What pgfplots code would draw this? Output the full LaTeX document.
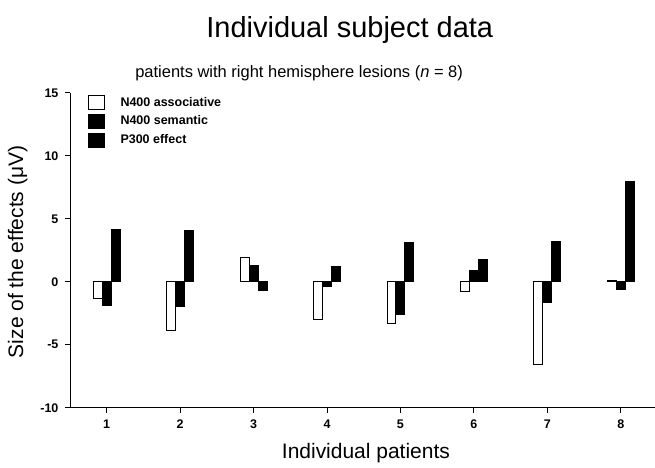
\documentclass[border=0pt]{standalone}
\usepackage{fontspec}
\setmainfont{Liberation Sans}
\usepackage{pgfplots}
\pgfplotsset{compat=1.18}

\begin{document}
\begin{tikzpicture}
\begin{axis}[
    scale only axis,
    width=585pt, height=315pt,
    xmin=0.5, xmax=8.46,
    ymin=-10, ymax=15,
    axis lines=left,
    axis line style={-, line width=0.9pt},
    xtick={1,...,8},
    ytick={-10,-5,...,15},
    tick align=outside,
    major tick length=5pt,
    tick style={black, line width=0.9pt},
    /pgf/number format/assume math mode=true,
    tick label style={font=\bfseries\fontsize{12.5}{13}\selectfont},
    xticklabel style={yshift=-4pt},
    yticklabel style={xshift=-3pt},
    ybar, bar width=9pt,
    clip=false,
    legend cell align=left,
    legend style={at={(rel axis cs:0.03,0.994)}, anchor=north west,
        draw=none, fill=none, inner sep=0pt, row sep=4pt,
        font=\bfseries\fontsize{12.5}{14}\selectfont},
    legend image code/.code={
        \draw[#1, line width=0.8pt] (0pt,-7pt) rectangle (16pt,7pt);
        \path (30pt,0pt);},
]
    % N400 associative
    \addplot[fill=white, draw=black, line width=0.9pt, bar shift=-9pt]
        coordinates {(1,-1.35) (2,-3.9) (3,1.9) (4,-3.0) (5,-3.3) (6,-0.8) (7,-6.6) (8,0.1)};
    \addlegendentry{N400 associative}

    % N400 semantic
    \addplot[fill=black, draw=black, line width=0.9pt, bar shift=0pt]
        coordinates {(1,-1.85) (2,-1.95) (3,1.3) (4,-0.35) (5,-2.6) (6,0.9) (7,-1.6) (8,-0.6)};
    \addlegendentry{N400 semantic}

    % P300 effect
    \addplot[fill=black, draw=black, line width=0.9pt, bar shift=9pt]
        coordinates {(1,4.15) (2,4.1) (3,-0.7) (4,1.25) (5,3.15) (6,1.8) (7,3.2) (8,8.0)};
    \addlegendentry{P300 effect}

    \coordinate (sw) at (rel axis cs:0,0);
    \coordinate (ne) at (rel axis cs:1,1);

    \node[font=\fontsize{29}{32}\selectfont] at (axis cs:4.31,20.0) {Individual subject data};
    \node[font=\fontsize{16.5}{19}\selectfont] at (axis cs:3.62,16.6) {patients with right hemisphere lesions (\textit{n} = 8)};
    \node[font=\fontsize{21}{24}\selectfont] at (axis cs:4.53,-13.57) {Individual patients};
    \node[rotate=90, font=\fontsize{21}{24}\selectfont] at (axis cs:-0.21,2.38) {Size of the effects (μV)};
\end{axis}
\path ([xshift=-70pt,yshift=-60pt]sw) rectangle ([yshift=93pt]ne);
\end{tikzpicture}
\end{document}
